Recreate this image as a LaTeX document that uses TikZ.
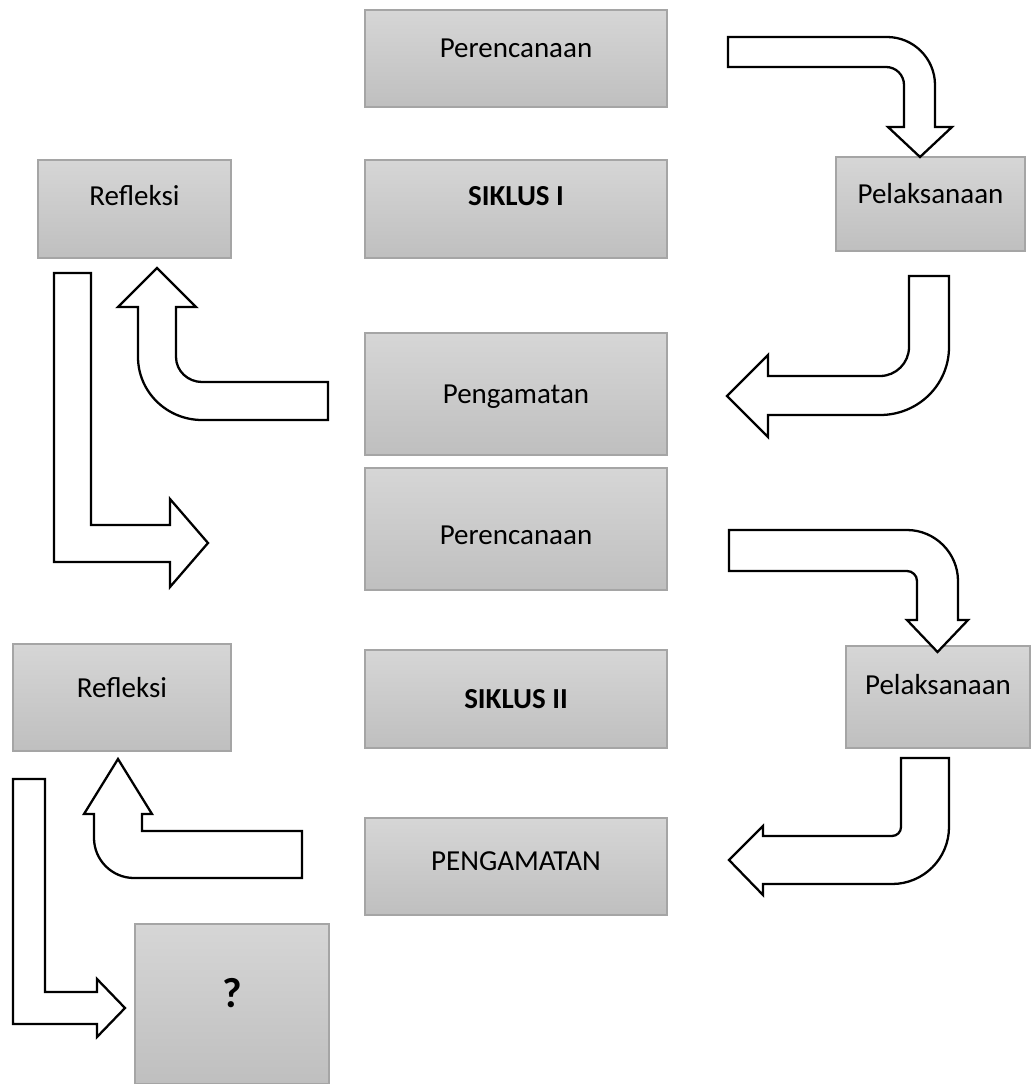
\documentclass[tikz,border=0pt]{standalone}
\usepackage{fontspec}
\setmainfont{Carlito}
\definecolor{atas}{RGB}{214,214,214}
\definecolor{bawah}{RGB}{191,191,191}
\definecolor{garis}{RGB}{165,165,165}
\tikzset{
  kotak/.style={draw=garis, line width=0.7pt, top color=atas, bottom color=bawah, inner sep=0pt},
  teks/.style={anchor=base, inner sep=0pt, font=\fontsize{16.5}{19}\selectfont},
  panah/.style={draw=black, fill=white, line width=1.3pt, line join=miter}
}
\begin{document}
\begin{tikzpicture}[x=0.2mm, y=-0.2mm]
  \useasboundingbox (0,0) rectangle (1030,1084);
  % siklus I
  \node[kotak, minimum width=60.4mm, minimum height=19.4mm] (rencana1) at (516,58.5) {};
  \node[kotak, minimum width=60.4mm, minimum height=19.6mm] (siklus1) at (516,209) {};
  \node[kotak, minimum width=38.6mm, minimum height=19.6mm] (refleksi1) at (134.5,209) {};
  \node[kotak, minimum width=37.8mm, minimum height=18.8mm] (laksana1) at (930.5,204) {};
  \node[kotak, minimum width=60.4mm, minimum height=24.4mm] (amat1) at (516,394) {};
  \node[teks] (rencana1t) at (516,58) {Perencanaan};
  \node[teks] (siklus1t) at (516,205) {\bfseries SIKLUS I};
  \node[teks] (refleksi1t) at (134.5,205) {Refleksi};
  \node[teks] (laksana1t) at (930.5,203) {Pelaksanaan};
  \node[teks] (amat1t) at (516,403) {Pengamatan};
  % siklus II
  \node[kotak, minimum width=60.4mm, minimum height=24.4mm] (rencana2) at (516,529) {};
  \node[kotak, minimum width=43.6mm, minimum height=21.4mm] (refleksi2) at (122,697.5) {};
  \node[kotak, minimum width=60.4mm, minimum height=19.6mm] (siklus2) at (516,699) {};
  \node[kotak, minimum width=36.8mm, minimum height=20.4mm] (laksana2) at (938,697) {};
  \node[kotak, minimum width=60.4mm, minimum height=19.4mm] (amat2) at (516,866.5) {};
  \node[kotak, minimum width=38.8mm, minimum height=32mm] (tanya) at (232,1004) {};
  \node[teks] (rencana2t) at (516,544) {Perencanaan};
  \node[teks] (refleksi2t) at (122,697) {Refleksi};
  \node[teks] (siklus2t) at (516,708) {\bfseries SIKLUS II};
  \node[teks] (laksana2t) at (938,694) {Pelaksanaan};
  \node[teks] (amat2t) at (516,870) {PENGAMATAN};
  \node[teks, font=\fontsize{24}{28}\selectfont\bfseries] (tanyat) at (232,1007) {?};
  % panah siklus I
  \draw[panah] (728,37) -- (887,37) .. controls (913.5,37) and (935,58.5) .. (935,85)
    -- (935,127) -- (952,127) -- (920,157) -- (888,127) -- (904,127) -- (904,85)
    .. controls (904,75) and (896,67) .. (886,67) -- (728,67) -- cycle;
  \draw[panah] (909,276) -- (949,276) -- (949,347) .. controls (949,385) and (918,415) .. (880,415)
    -- (768,415) -- (768,437) -- (727,396) -- (768,355) -- (768,376) -- (880,376)
    .. controls (896,376) and (909,363) .. (909,347) -- cycle;
  \draw[panah] (328,382) -- (202,382) .. controls (188,382) and (176,371) .. (176,357)
    -- (176,307) -- (196,307) -- (157,268) -- (118,307) -- (138,307) -- (138,357)
    .. controls (138,392) and (167,420) .. (202,420) -- (328,420) -- cycle;
  \draw[panah] (54,273) -- (91,273) -- (91,525) -- (170,525) -- (170,499) -- (208,543)
    -- (170,587) -- (170,562) -- (54,562) -- cycle;
  % panah siklus II
  \draw[panah] (729,530) -- (907,530) .. controls (935,530) and (958,553) .. (958,581)
    -- (958,620) -- (968,620) -- (937.5,652) -- (907,620) -- (917,620) -- (917,581)
    .. controls (917,575.5) and (912.5,571) .. (907,571) -- (729,571) -- cycle;
  \draw[panah] (901,758) -- (949,758) -- (949,827) .. controls (949,858.5) and (923.5,884) .. (892,884)
    -- (763,884) -- (763,895) -- (729,860) -- (763,826) -- (763,836) -- (892,836)
    .. controls (897,836) and (901,832) .. (901,827) -- cycle;
  \draw[panah] (302,831) -- (142,831) -- (142,814) -- (152,814) -- (118,759) -- (84,814)
    -- (94,814) -- (94,838) .. controls (94,860) and (112,878) .. (134,878) -- (302,878) -- cycle;
  \draw[panah] (13,779) -- (45,779) -- (45,992) -- (97,992) -- (97,979) -- (125,1008)
    -- (97,1037) -- (97,1024) -- (13,1024) -- cycle;
\end{tikzpicture}
\end{document}
